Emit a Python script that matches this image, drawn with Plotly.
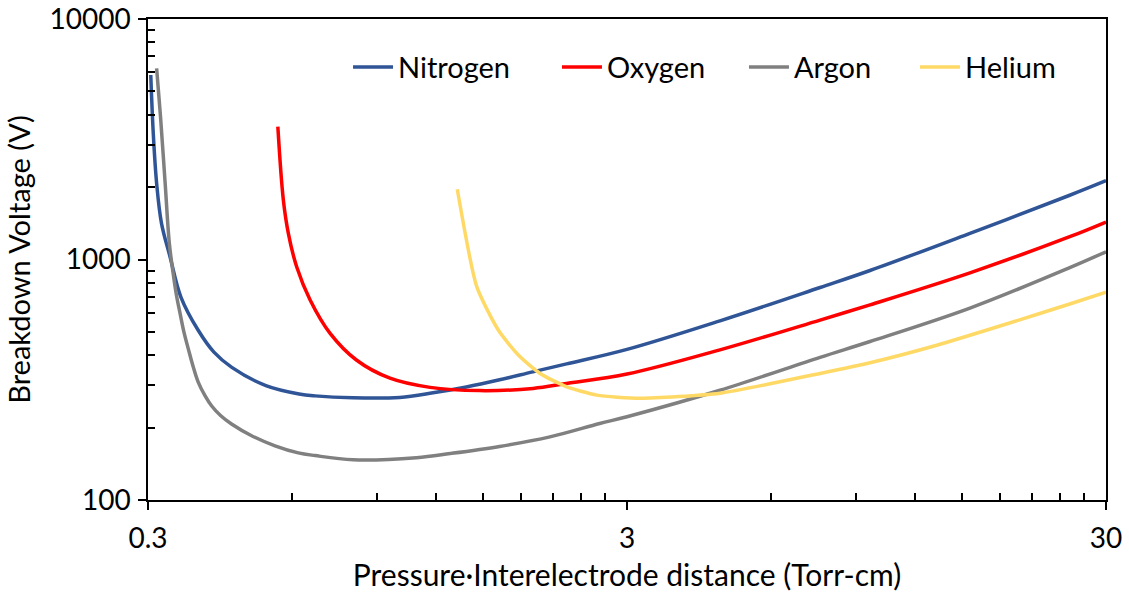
import plotly.graph_objects as go
import math

nitrogen_x = [0.304, 0.3077, 0.3127, 0.3201, 0.3335, 0.3514, 0.3816, 0.4119, 0.4488, 0.5287, 0.6201, 0.6696, 0.8024, 1.006, 1.181, 1.386, 1.626, 1.907, 2.244, 3.0, 4.69, 7.59, 9.65, 15.6, 25.2, 30]
nitrogen_y = [5850, 3347, 2074, 1414, 1027, 698, 509, 412, 356, 299, 276, 271, 266, 267, 279, 295, 316, 341, 368, 423, 556, 765, 900, 1285, 1850, 2127]

oxygen_x = [0.560, 0.575, 0.589, 0.613, 0.654, 0.720, 0.817, 0.960, 1.164, 1.475, 1.910, 2.241, 3.0, 4.69, 7.59, 9.65, 15.6, 25.2, 30]
oxygen_y = [3566, 1768, 1285, 933, 679, 493, 382, 321, 294, 285, 291, 305, 334, 421, 560, 648, 880, 1244, 1432]

argon_x = [0.3127, 0.3186, 0.3258, 0.3324, 0.3387, 0.3442, 0.3499, 0.3566, 0.3646, 0.3724, 0.3817, 0.3948, 0.4075, 0.4257, 0.4482, 0.4937, 0.5524, 0.618, 0.6696, 0.804, 1.090, 1.282, 1.626, 2.071, 2.631, 3.0, 4.69, 7.59, 9.65, 15.6, 25.2, 30]
argon_y = [6237, 3925, 2074, 1168, 870, 705, 599, 499, 421, 361, 310, 271, 246, 224, 207, 185, 168, 157, 153, 147, 150, 156, 167, 183, 208, 222, 286, 392, 456, 628, 925, 1077]

helium_x = [1.327, 1.457, 1.616, 1.779, 1.975, 2.241, 2.594, 3.19, 4.69, 7.59, 9.65, 13.3, 18.3, 25.2, 30]
helium_y = [1958, 771, 509, 401, 336, 296, 273, 265, 278, 336, 372, 440, 534, 653, 731]

series_names = ["Nitrogen", "Oxygen", "Argon", "Helium"]
series_colors = ["#2F5597", "#FF0000", "#808080", "#FFD966"]
series_x = [nitrogen_x, oxygen_x, argon_x, helium_x]
series_y = [nitrogen_y, oxygen_y, argon_y, helium_y]
series_smoothing = [1.0, 1.0, 1.0, 0.6]
legend_x = [0.2088, 0.4269, 0.6221, 0.8006]

x_tickvals = [0.3, 3, 30]
x_ticktext = ["0.3", "3", "30"]
x_minor = [0.6, 0.9, 1.2, 1.5, 1.8, 2.1, 2.4, 2.7, 6, 9, 12, 15, 18, 21, 24, 27]
y_tickvals = [100, 1000, 10000]
y_ticktext = ["100", "1000", "10000"]
y_minor = [200, 300, 400, 500, 600, 700, 800, 900, 2000, 3000, 4000, 5000, 6000, 7000, 8000, 9000]

FONT = "Lato"

fig = go.Figure()
legend_layout = {}
for i, (name, color, xs, ys, sm, lx) in enumerate(zip(series_names, series_colors, series_x, series_y, series_smoothing, legend_x)):
    key = "legend" if i == 0 else f"legend{i+1}"
    fig.add_trace(go.Scatter(
        x=xs, y=ys, name=name, mode="lines", legend=key,
        line=dict(color=color, width=3.5, shape="spline", smoothing=sm),
    ))
    legend_layout[key] = dict(
        x=lx, y=0.90, xanchor="left", yanchor="middle",
        bgcolor="rgba(0,0,0,0)", font=dict(size=29, family=FONT, color="black"),
        itemwidth=40,
    )

fig.update_layout(
    width=1129, height=604,
    margin=dict(l=148, r=23, t=19, b=104),
    paper_bgcolor="white", plot_bgcolor="white",
    font=dict(family=FONT, color="black", size=24),
    showlegend=True,
    **legend_layout,
)

fig.update_xaxes(
    type="log", range=[math.log10(0.3), math.log10(30)],
    tickmode="array", tickvals=x_tickvals, ticktext=x_ticktext,
    ticks="outside", ticklen=8, tickwidth=1.5, tickcolor="black",
    ticklabelstandoff=5,
    minor=dict(tickmode="array", tickvals=x_minor, ticks="inside", ticklen=7, tickwidth=1.5, tickcolor="black"),
    showline=True, linecolor="black", linewidth=1.5, mirror=True,
    showgrid=False, zeroline=False, automargin=False,
    tickfont=dict(size=28, family=FONT),
    title=dict(text="Pressure·Interelectrode distance (Torr-cm)", font=dict(size=30, family=FONT), standoff=12),
)

fig.update_yaxes(
    type="log", range=[2, 4],
    tickmode="array", tickvals=y_tickvals, ticktext=y_ticktext,
    ticks="outside", ticklen=8, tickwidth=1.5, tickcolor="black",
    ticklabelstandoff=2,
    minor=dict(tickmode="array", tickvals=y_minor, ticks="inside", ticklen=7, tickwidth=1.5, tickcolor="black"),
    showline=True, linecolor="black", linewidth=1.5, mirror=True,
    showgrid=False, zeroline=False, automargin=False,
    tickfont=dict(size=28, family=FONT),
    title=dict(text="Breakdown Voltage (V)", font=dict(size=29, family=FONT), standoff=10),
)

fig.write_html("out.html")
